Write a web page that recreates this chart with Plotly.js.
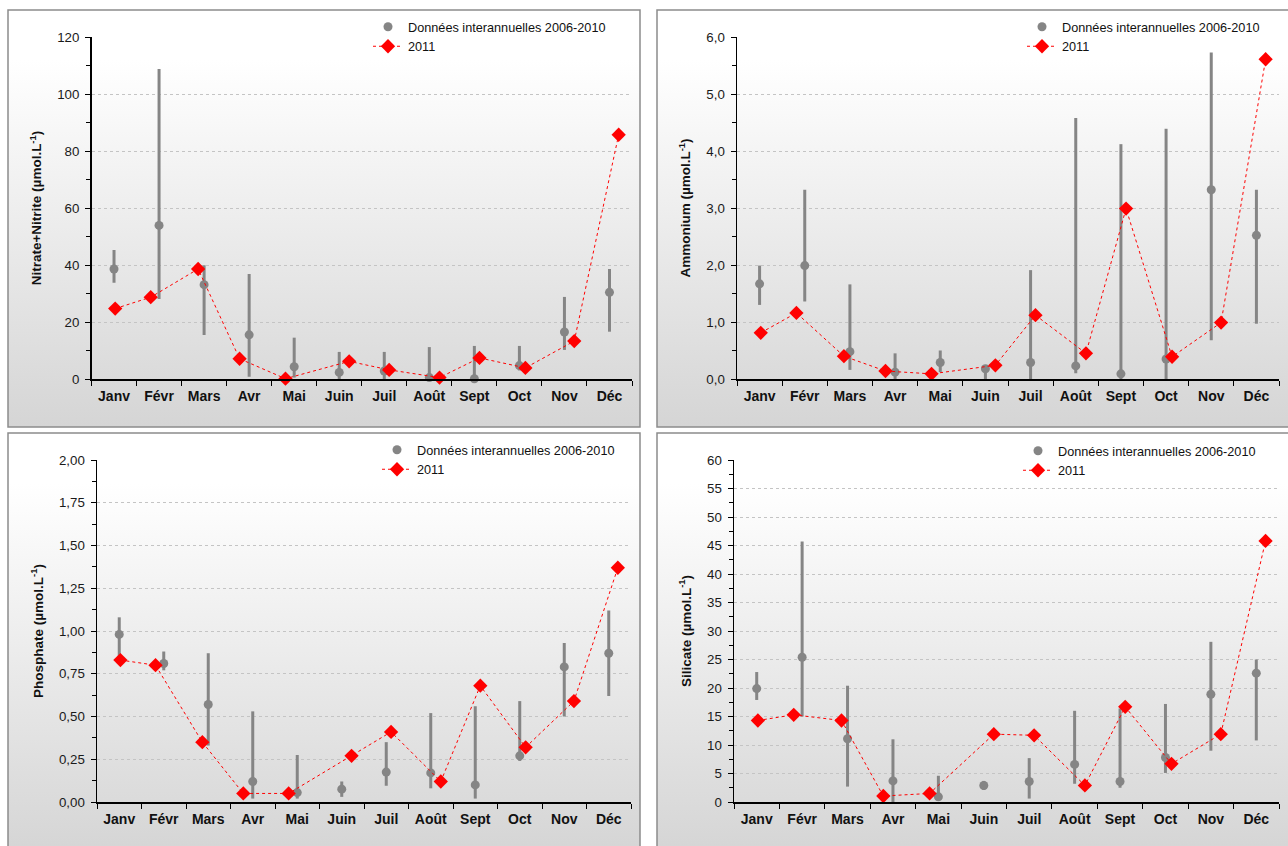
<!DOCTYPE html>
<html>
<head>
<meta charset="utf-8">
<script src="https://cdn.plot.ly/plotly-3.0.1.min.js"></script>
<style>
  html, body { margin: 0; padding: 0; background: #ffffff; }
  #chart { width: 1288px; height: 846px; }
</style>
</head>
<body>
<div id="chart"></div>
<script>
// Month categories and 2011 sampling dates
const months = ['Janv', 'Févr', 'Mars', 'Avr', 'Mai', 'Juin', 'Juil', 'Août', 'Sept', 'Oct', 'Nov', 'Déc'];
const sampleDates2011 = ['2011-01-17', '2011-02-10', '2011-03-14', '2011-04-11', '2011-05-12', '2011-06-24',
                         '2011-07-21', '2011-08-24', '2011-09-20', '2011-10-21', '2011-11-23', '2011-12-23'];

// Nitrate + Nitrite (µmol/L)
const nitrateMean = [38.6, 53.9, 33.1, 15.5, 4.3, 2.3, 2.8, 0.5, 0.1, 4.7, 16.5, 30.4];
const nitrateMax  = [45.3, 108.8, 39.9, 36.8, 14.5, 9.5, 9.5, 11.2, 11.6, 11.6, 28.8, 38.6];
const nitrateMin  = [33.8, 28.1, 15.4, 0.8, 0.5, 0.0, 0.0, 0.0, 0.0, 3.0, 10.2, 16.6];
const nitrate2011 = [24.7, 28.7, 38.6, 7.1, 0.1, 6.2, 3.2, 0.5, 7.4, 3.9, 13.3, 85.7];

// Ammonium (µmol/L)
const ammoniumMean = [1.67, 1.99, 0.48, 0.12, 0.29, 0.18, 0.29, 0.23, 0.09, 0.35, 3.32, 2.52];
const ammoniumMax  = [1.99, 3.32, 1.66, 0.45, 0.50, 0.22, 1.91, 4.58, 4.12, 4.39, 5.73, 3.32];
const ammoniumMin  = [1.30, 1.36, 0.16, 0.00, 0.12, 0.00, 0.00, 0.10, 0.00, 0.00, 0.68, 0.97];
const ammonium2011 = [0.81, 1.16, 0.40, 0.14, 0.09, 0.24, 1.12, 0.45, 2.99, 0.39, 0.99, 5.61];

// Phosphate (µmol/L)
const phosphateMean = [0.98, 0.81, 0.57, 0.12, 0.055, 0.075, 0.175, 0.17, 0.10, 0.27, 0.79, 0.87];
const phosphateMax  = [1.08, 0.88, 0.87, 0.53, 0.275, 0.12, 0.35, 0.52, 0.56, 0.59, 0.93, 1.12];
const phosphateMin  = [0.83, 0.77, 0.33, 0.02, 0.02, 0.03, 0.095, 0.08, 0.02, 0.24, 0.50, 0.62];
const phosphate2011 = [0.83, 0.80, 0.35, 0.05, 0.05, 0.27, 0.41, 0.12, 0.68, 0.32, 0.59, 1.37];

// Silicate (µmol/L)
const silicateMean = [19.9, 25.4, 11.1, 3.7, 0.9, 2.9, 3.6, 6.6, 3.6, 7.8, 18.9, 22.6];
const silicateMax  = [22.8, 45.7, 20.4, 11.0, 4.6, 3.7, 7.7, 16.0, 16.4, 17.2, 28.1, 25.0];
const silicateMin  = [17.9, 15.0, 2.7, 0.0, 0.3, 2.1, 0.6, 3.2, 2.5, 5.1, 9.0, 10.8];
const silicate2011 = [14.3, 15.3, 14.3, 1.05, 1.5, 11.9, 11.7, 2.9, 16.7, 6.7, 11.9, 45.8];

const seriesNames = ['Données interannuelles 2006-2010', '2011'];

const W = 1288, H = 846;
const px = v => v / W;
const py = v => 1 - v / H;

const FONT = 'Liberation Sans, Arial, sans-serif';
const GREY = '#858585';
const RED = '#ff0000';

// panel frames [left, top, right, bottom] and plot areas [left, top, right, bottom] in px
const panels = [
  { frame: [8, 10, 640, 427],    plot: [91.5, 37, 632, 379],
    mean: nitrateMean, max: nitrateMax, min: nitrateMin, y2011: nitrate2011,
    title: 'Nitrate+Nitrite (µmol.L<sup>-1</sup>)', range: [0, 120], dtick: 20, minor: 10, fmt: 'd',
    legend: [368, 12] },
  { frame: [657, 10, 1292, 427], plot: [737, 37, 1279, 379],
    mean: ammoniumMean, max: ammoniumMax, min: ammoniumMin, y2011: ammonium2011,
    title: 'Ammonium (µmol.L<sup>-1</sup>)', range: [0, 6], dtick: 1, minor: 0.5, fmt: '.1f',
    legend: [1022, 12] },
  { frame: [8, 433, 640, 852],   plot: [97, 460, 631, 802],
    mean: phosphateMean, max: phosphateMax, min: phosphateMin, y2011: phosphate2011,
    title: 'Phosphate (µmol.L<sup>-1</sup>)', range: [0, 2], dtick: 0.25, minor: 0.125, fmt: '.2f',
    legend: [377, 435] },
  { frame: [657, 433, 1292, 852], plot: [734, 460, 1279, 802],
    mean: silicateMean, max: silicateMax, min: silicateMin, y2011: silicate2011,
    title: 'Silicate (µmol.L<sup>-1</sup>)', range: [0, 60], dtick: 5, minor: 2.5, fmt: 'd',
    legend: [1018, 436] }
];

// vertical white-to-grey gradient used as panel background
const gradSvg = '<svg xmlns="http://www.w3.org/2000/svg" width="100" height="100" preserveAspectRatio="none">' +
  '<defs><linearGradient id="g" x1="0" y1="0" x2="0" y2="1">' +
  '<stop offset="0" stop-color="#ffffff"/><stop offset="0.12" stop-color="#ffffff"/>' +
  '<stop offset="1" stop-color="#d5d5d5"/></linearGradient></defs>' +
  '<rect width="100" height="100" fill="url(#g)"/></svg>';
const gradSrc = 'data:image/svg+xml;charset=utf-8,' + encodeURIComponent(gradSvg);

const monthIdx = months.map((m, i) => i);

const data = [];
const layout = {
  width: W, height: H,
  margin: { l: 0, r: 0, t: 0, b: 0 },
  paper_bgcolor: '#ffffff',
  plot_bgcolor: 'rgba(0,0,0,0)',
  separators: ', ',
  font: { family: FONT, size: 12, color: '#1a1a1a' },
  images: [],
  shapes: [],
  showlegend: true
};

panels.forEach((p, k) => {
  const n = k + 1;
  const xa = n === 1 ? 'x' : 'x' + n;
  const ya = n === 1 ? 'y' : 'y' + n;
  const xd = 'x' + (n + 4);
  const lg = n === 1 ? 'legend' : 'legend' + n;

  // interannual mean with min–max range
  data.push({
    type: 'scatter', mode: 'markers', name: seriesNames[0],
    x: monthIdx, y: p.mean, xaxis: xa, yaxis: ya, legend: lg,
    marker: { color: GREY, size: 9 },
    error_y: {
      type: 'data', symmetric: false,
      array: p.max.map((v, i) => v - p.mean[i]),
      arrayminus: p.mean.map((v, i) => v - p.min[i]),
      color: GREY, thickness: 3, width: 0
    },
    cliponaxis: false, hoverinfo: 'y'
  });
  // 2011 samples on the date scale
  data.push({
    type: 'scatter', mode: 'lines+markers', name: seriesNames[1],
    x: sampleDates2011, y: p.y2011, xaxis: xd, yaxis: ya, legend: lg,
    line: { color: RED, width: 1, dash: 'dot' },
    marker: { color: RED, symbol: 'diamond', size: 11 },
    cliponaxis: false, hoverinfo: 'x+y'
  });

  const xKey = n === 1 ? 'xaxis' : 'xaxis' + n;
  const yKey = n === 1 ? 'yaxis' : 'yaxis' + n;
  layout[xKey] = {
    domain: [px(p.plot[0]), px(p.plot[2])],
    anchor: ya,
    range: [-0.5, 11.5],
    tickmode: 'array', tickvals: monthIdx, ticktext: months,
    ticks: '', ticklabelstandoff: 4,
    tickfont: { family: FONT, size: 14, color: '#111', weight: 'bold' },
    minor: { tickmode: 'linear', tick0: -0.5, dtick: 1, ticks: 'outside', ticklen: 5, tickwidth: 1, tickcolor: '#000', showgrid: false },
    showline: true, linecolor: '#000', linewidth: 1.5,
    showgrid: false, zeroline: false, fixedrange: true
  };
  layout['xaxis' + (n + 4)] = {
    overlaying: xa, anchor: ya, type: 'date',
    range: ['2011-01-01', '2012-01-01'],
    visible: false, fixedrange: true
  };
  layout[yKey] = {
    domain: [py(p.plot[3]), py(p.plot[1])],
    anchor: xa,
    range: p.range, dtick: p.dtick, tick0: 0, tickformat: p.fmt,
    ticks: 'outside', ticklen: 5, tickwidth: 1, tickcolor: '#000', ticklabelstandoff: 3,
    tickfont: { family: FONT, size: 13.3, color: '#1a1a1a' },
    minor: { dtick: p.minor, tick0: 0, ticks: 'outside', ticklen: 4, tickwidth: 1, tickcolor: '#000', showgrid: false },
    showline: true, linecolor: '#000', linewidth: 1.5,
    showgrid: true, gridcolor: '#c4c4c4', gridwidth: 1, griddash: 'dot',
    zeroline: false, fixedrange: true,
    title: { text: p.title, font: { family: FONT, size: 13.5, color: '#111', weight: 'bold' }, standoff: 12 }
  };
  layout[lg] = {
    x: px(p.legend[0]), y: py(p.legend[1]), xanchor: 'left', yanchor: 'top',
    bgcolor: 'rgba(0,0,0,0)', borderwidth: 0,
    font: { family: FONT, size: 12.7, color: '#111' },
    tracegroupgap: 0, itemwidth: 30
  };

  const f = p.frame;
  layout.images.push({
    source: gradSrc, xref: 'paper', yref: 'paper',
    x: px(f[0]), y: py(f[1]), sizex: px(f[2]) - px(f[0]), sizey: py(f[1]) - py(f[3]),
    xanchor: 'left', yanchor: 'top', sizing: 'stretch', layer: 'below'
  });
  layout.shapes.push({
    type: 'rect', xref: 'paper', yref: 'paper', layer: 'above',
    x0: px(f[0]), x1: px(f[2]), y0: py(f[3]), y1: py(f[1]),
    line: { color: '#8c8c8c', width: 1.5 }, fillcolor: 'rgba(0,0,0,0)'
  });
});

Plotly.newPlot('chart', data, layout, { displayModeBar: false, staticPlot: true });
</script>
</body>
</html>
